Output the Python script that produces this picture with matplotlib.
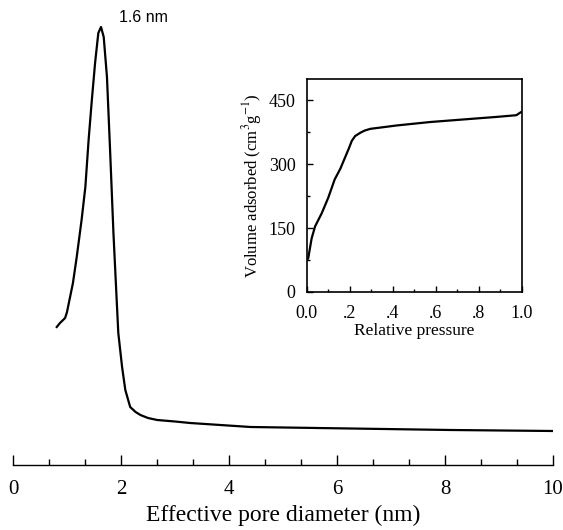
import matplotlib.pyplot as plt
import numpy as np
from matplotlib.ticker import MultipleLocator, FixedLocator

plt.rcParams["mathtext.fontset"] = "stix"

# pore size distribution (arbitrary intensity units)
pore_d = [0.81, 0.87, 0.965, 1.00, 1.11, 1.18, 1.27, 1.34, 1.40, 1.46, 1.52, 1.58,
          1.63, 1.68, 1.74, 1.80, 1.86, 1.92, 1.95, 2.02, 2.08, 2.17, 2.27, 2.36,
          2.50, 2.67, 3.00, 3.28, 4.40, 6.25, 8.11, 10.0]
pore_i = [138, 142, 147, 153, 182, 208, 245, 278, 325, 365, 402, 432,
          438, 428, 388, 312, 232, 165, 132, 98, 75, 58, 53, 50,
          47, 45, 43.5, 42, 38, 36.5, 35, 34]

# N2 adsorption isotherm (inset)
rel_p = [0.0, 0.007, 0.023, 0.039, 0.07, 0.10, 0.13, 0.157, 0.196, 0.21, 0.225,
         0.25, 0.27, 0.296, 0.42, 0.574, 0.728, 0.883, 0.975, 0.999]
vol_ads = [75, 79, 126, 154, 185, 221, 264, 290, 337, 355, 366,
           374, 379, 383, 391, 399, 405, 411, 415, 423]

fig = plt.figure(figsize=(5.63, 5.3), dpi=100)

# main plot
ax = fig.add_axes([13 / 563, 65 / 530, 540 / 563, 455 / 530])
ax.plot(pore_d, pore_i, color="black", lw=1.6)
ax.set_xlim(0, 10)
ax.set_ylim(0, 455)
for s in ["left", "right", "top"]:
    ax.spines[s].set_visible(False)
ax.spines["bottom"].set_linewidth(1.0)
ax.set_yticks([])
ax.xaxis.set_major_locator(MultipleLocator(2))
ax.xaxis.set_minor_locator(FixedLocator(np.arange(0, 10.01, 2 / 3)))
ax.tick_params(axis="x", which="major", direction="in", length=7, width=1,
               labelsize=15, pad=11)
ax.tick_params(axis="x", which="minor", direction="in", length=4, width=1)
for lab in ax.get_xticklabels():
    lab.set_family("Liberation Serif")
ax.set_xlabel("Effective pore diameter (nm)", fontsize=17,
              family="Liberation Serif", labelpad=4)
ax.text(2.42, 448, "1.6 nm", fontsize=11.5, family="Liberation Sans",
        ha="center", va="center")

# inset
ins = fig.add_axes([306.7 / 563, 238 / 530, 215 / 563, 213 / 530])
ins.plot(rel_p, vol_ads, color="black", lw=1.6)
ins.set_xlim(0, 1.0)
ins.set_ylim(0, 500)
ins.set_xticks([0, 0.2, 0.4, 0.6, 0.8, 1.0])
ins.set_xticklabels(["0.0", ".2", ".4", ".6", ".8", "1.0"])
ins.xaxis.set_minor_locator(MultipleLocator(0.1))
ins.set_yticks([0, 150, 300, 450])
ins.yaxis.set_minor_locator(MultipleLocator(75))
ins.tick_params(which="major", direction="in", length=4, width=1, labelsize=13)
ins.tick_params(axis="x", which="major", pad=9)
ins.tick_params(axis="y", which="major", pad=8)
ins.tick_params(which="minor", direction="in", length=2, width=1)
for lab in ins.get_xticklabels() + ins.get_yticklabels():
    lab.set_family("Liberation Serif")
for s in ins.spines.values():
    s.set_linewidth(1.2)
ins.set_xlabel("Relative pressure", fontsize=12.5, family="Liberation Serif",
               labelpad=1)
ins.set_ylabel("Volume adsorbed (cm$^3$g$^{-1}$)", fontsize=12,
               family="Liberation Serif", labelpad=3)

fig.savefig("out.png", dpi=100)
